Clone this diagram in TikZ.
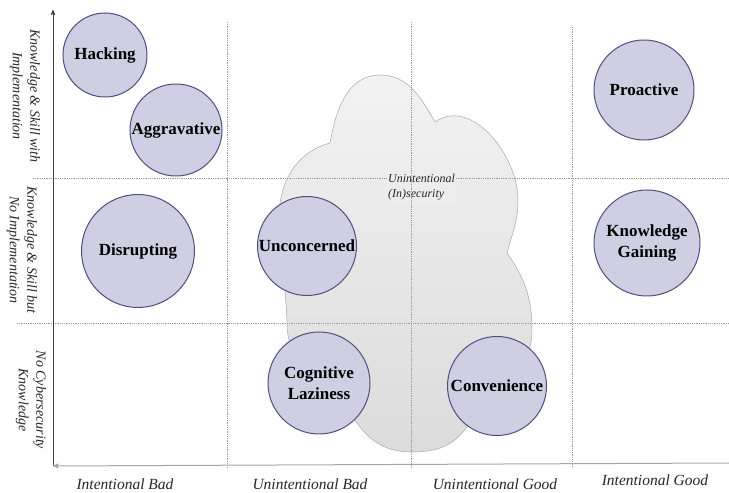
\documentclass[tikz,border=0pt]{standalone}
\usepackage{fontspec}
\setmainfont{Liberation Serif}
\usetikzlibrary{arrows,positioning}
\definecolor{bubbleFill}{RGB}{208,206,227}
\definecolor{bubbleLine}{RGB}{82,77,128}
\definecolor{cloudLine}{RGB}{168,168,168}
\tikzset{
	%Define standard arrow tip
	>=stealth',
	%Define style for the circles
	bubble/.style={
		circle,
		fill=bubbleFill,
		draw=bubbleLine, line width=1pt,
		inner sep=0pt,
		align=center,
		font=\fontsize{17}{21}\selectfont\bfseries},
	% Define style for the dotted grid
	gridStyle/.style={
		draw=gray!80, line width=0.6pt,
		dash pattern=on 0.8pt off 1pt},
	% Define axis style
	axisStyle/.style={
		->,
		line width=0.8pt},
	% Define label styles
	rowLabel/.style={
		rotate=-90, align=center, text=black!85,
		font=\fontsize{14}{17.5}\selectfont\itshape},
	colLabel/.style={
		anchor=base, text=black!85,
		font=\fontsize{15.5}{18}\selectfont\itshape}
}

\begin{document}
\begin{tikzpicture}[x=1pt,y=1pt]
		\useasboundingbox (0,0) rectangle (729,493);
		
		%cloud
		\shadedraw[top color=black!5, bottom color=black!14, draw=cloudLine, line width=0.5pt]
			(412,41) to[out=180,in=-55] (357,70) to[out=125,in=-90] (287,170)
			to[out=92,in=-88] (279,275) to[out=90,in=195] (330,350)
			to[out=80,in=180] (380,418) to[out=0,in=120] (435,371)
			to[out=35,in=90] (518,293) to[out=-90,in=75] (507,240)
			to[out=-55,in=90] (532,163) to[out=-90,in=55] (467,66)
			to[out=-125,in=0] (412,41) -- cycle;
		
		%grid
		\draw[gridStyle] (33,315) -- (729,315);
		\draw[gridStyle] (17,170) -- (729,170);
		\node[anchor=north west, inner sep=1pt, fill=black!7, align=left, text=black!85,
			font=\fontsize{12}{15}\selectfont\itshape] (cloudText) at (387,320) {Unintentional\\(In)security};
		\draw[gridStyle] (227,471) -- (227,25);
		\draw[gridStyle] (411,471) -- (411,25);
		\draw[gridStyle] (572,466) -- (572,25);
		
		%axes
		\coordinate (origin) at (53,27);
		\coordinate (yEnd) at (53,483);
		\coordinate (xEnd) at (729,30);
		\draw[axisStyle, black!75] (origin) -- (yEnd);
		\draw[axisStyle, gray!70, line width=1pt] (xEnd) -- (origin);
		
		%nodes
		\node[bubble, minimum size=84] (hacking) at (105,438) {Hacking};
		\node[bubble, minimum size=92] (aggravative) at (176,363) {Aggravative};
		\node[bubble, minimum size=113] (disrupting) at (138,242) {Disrupting};
		\node[bubble, minimum size=99] (unconcerned) at (307,247) {Unconcerned};
		\node[bubble, minimum size=102] (laziness) at (319,110) {Cognitive\\Laziness};
		\node[bubble, minimum size=99] (convenience) at (497,107) {Convenience};
		\node[bubble, minimum size=100] (proactive) at (644,403) {Proactive};
		\node[bubble, minimum size=106] (gaining) at (647,250) {Knowledge\\Gaining};
		
		\node[rowLabel] (rowTop) at (25,397) {Knowledge \& Skill with\\Implementation};
		\node[rowLabel] (rowMid) at (22,243) {Knowledge \& Skill but\\No Implementation};
		\node[rowLabel] (rowLow) at (31,93) {No Cybersecurity\\Knowledge};
		
		\node[colLabel] (intBad) at (125,3) {Intentional Bad};
		\node[colLabel] (unintBad) at (310,3) {Unintentional Bad};
		\node[colLabel] (unintGood) at (495,3) {Unintentional Good};
		\node[colLabel] (intGood) at (655,7) {Intentional Good};
		
\end{tikzpicture}
\end{document}
